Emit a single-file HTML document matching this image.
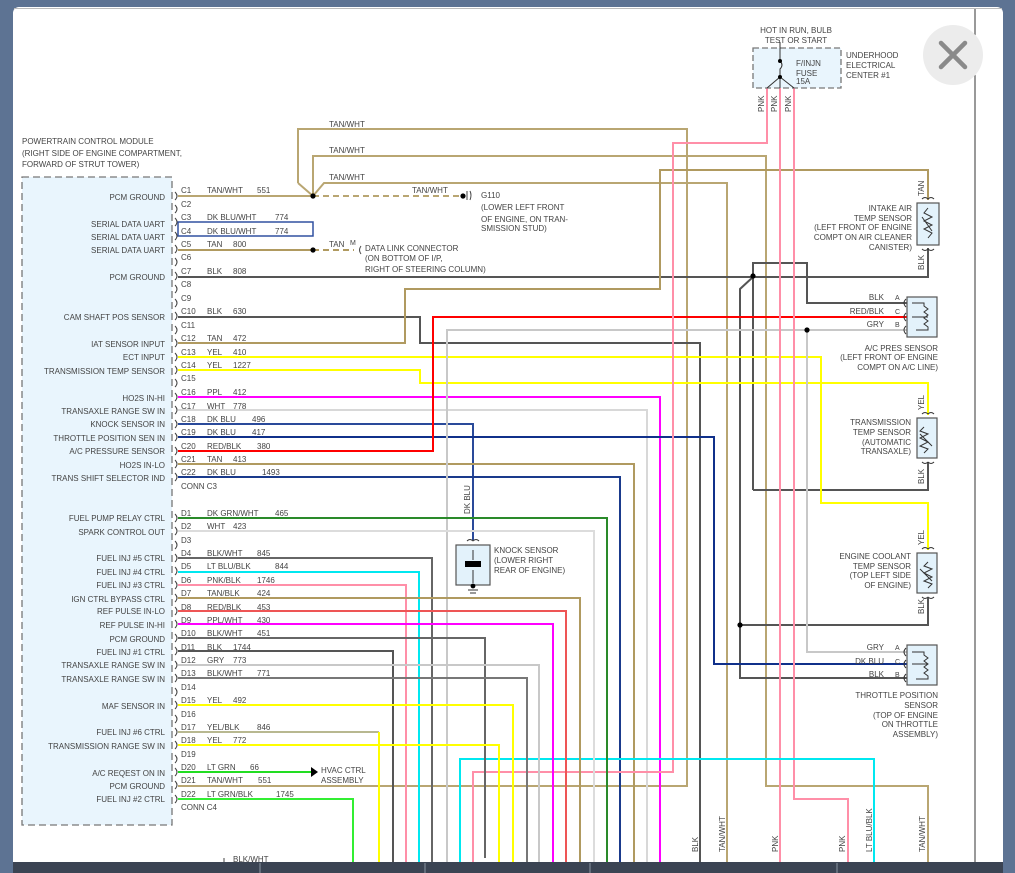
<!DOCTYPE html>
<html><head><meta charset="utf-8"><style>
html,body{margin:0;padding:0;background:#5d7393;}
svg{display:block}
text{font-family:"Liberation Sans",sans-serif;font-size:8px;fill:#444}
.r{text-anchor:end}
</style></head><body>
<svg width="1015" height="873" viewBox="0 0 1015 873" xmlns="http://www.w3.org/2000/svg">
<rect x="0" y="0" width="1015" height="873" fill="#5d7393"/>
<rect x="13" y="7" width="990" height="866" rx="6" fill="#fff"/>
<line x1="975" y1="8" x2="975" y2="862" stroke="#333" stroke-width="1"/>
<line x1="14" y1="8.5" x2="1002" y2="8.5" stroke="#bbb" stroke-width="1"/>

<!-- PCM box -->
<rect x="22" y="177" width="150" height="648" fill="#e9f5fd" stroke="#777" stroke-width="1.3" stroke-dasharray="7,4"/>
<text x="22" y="144">POWERTRAIN CONTROL MODULE</text>
<text x="22" y="156">(RIGHT SIDE OF ENGINE COMPARTMENT,</text>
<text x="22" y="167">FORWARD OF STRUT TOWER)</text>

<g fill="none" stroke-width="2">
<!-- TAN/WHT loops -->
<polyline points="298,183 298,129 687,129 687,786 178,786" stroke="#b9a672"/>
<polyline points="313,196 313,156 766,156 766,786 928,786 928,862" stroke="#b9a672"/>
<polyline points="313,196 324,183 727,183 727,862" stroke="#b9a672"/>
<line x1="298" y1="183" x2="313" y2="196" stroke="#b9a672"/>
<line x1="178" y1="196" x2="313" y2="196" stroke="#b9a672"/>
<line x1="313" y1="196" x2="463" y2="196" stroke="#b9a672" stroke-dasharray="6,4"/>
<!-- C3/C4 -->
<rect x="178" y="222" width="135" height="14" stroke="#3050a0" stroke-width="1.5"/>
<!-- C5 -->
<line x1="178" y1="250" x2="313" y2="250" stroke="#b09a60"/>
<line x1="313" y1="250" x2="354" y2="250" stroke="#b09a60" stroke-dasharray="6,4"/>
<!-- C7 BLK -->
<line x1="178" y1="277" x2="753" y2="277" stroke="#555"/>
<polyline points="753,277 928,277 928,248" stroke="#555"/>
<polyline points="753,490 753,263 807,263 807,303 908,303" stroke="#555"/>
<polyline points="753,277 740,289 740,678 908,678" stroke="#555"/>
<polyline points="753,490 928,490 928,462" stroke="#555"/>
<polyline points="740,625 928,625 928,598" stroke="#555"/>
<!-- C10 -->
<polyline points="178,317 420,317 420,343 700,343 700,862" stroke="#555"/>
<!-- C12 TAN -->
<polyline points="178,343 405,343 405,289 660,289 660,170 928,170 928,200" stroke="#b09a60"/>
<!-- C13 YEL -->
<polyline points="178,357 821,357 821,503 928,503 928,550" stroke="#ffff00"/>
<!-- C14 YEL -->
<polyline points="178,370 420,370 420,383 928,383 928,415" stroke="#ffff00"/>
<!-- C16 PPL -->
<polyline points="178,397 660,397 660,862" stroke="#ff00ff"/>
<!-- C17 WHT -->
<polyline points="178,410 647,410 647,862" stroke="#d8d8d8"/>
<!-- C18 -->
<polyline points="178,424 473,424 473,540" stroke="#2a4a9a"/>
<!-- C19 -->
<polyline points="178,437 714,437 714,664 908,664" stroke="#10308a"/>
<!-- C20 -->
<polyline points="178,451 433,451 433,317 908,317" stroke="#ff0000"/>
<!-- C21 -->
<polyline points="178,464 634,464 634,862" stroke="#b09a60"/>
<!-- C22 -->
<polyline points="178,477 620,477 620,862" stroke="#1a3a8c"/>
<!-- GRY -->
<polyline points="447,862 447,330 908,330" stroke="#c8c8c8"/>
<polyline points="807,330 807,652 908,652" stroke="#c8c8c8"/>
<!-- pinks -->
<polyline points="767,88 767,143 673,143 673,772 473,772 473,862" stroke="#ff8fa8"/>
<polyline points="780,88 780,862" stroke="#ff8fa8"/>
<polyline points="794,88 794,799 848,799 848,862" stroke="#ff8fa8"/>
<!-- cyan -->
<polyline points="460,862 460,759 874,759 874,862" stroke="#00e8f0"/>
<!-- D wires -->
<polyline points="178,518 607,518 607,862" stroke="#2a8a2a"/>
<polyline points="178,531 594,531 594,862" stroke="#dcdcdc"/>
<polyline points="178,558 432,558 432,862" stroke="#666"/>
<polyline points="178,572 419,572 419,862" stroke="#00e8f0"/>
<polyline points="178,585 406,585 406,862" stroke="#ff8fa8"/>
<polyline points="178,598 580,598 580,862" stroke="#b09a60"/>
<polyline points="178,611 566,611 566,862" stroke="#ee5555"/>
<polyline points="178,624 553,624 553,862" stroke="#ff00ff"/>
<polyline points="178,638 485,638 485,858" stroke="#666"/>
<polyline points="178,651 393,651 393,862" stroke="#555"/>
<polyline points="178,665 539,665 539,862" stroke="#c8c8c8"/>
<polyline points="178,678 527,678 527,862" stroke="#777"/>
<polyline points="178,705 513,705 513,862" stroke="#ffff00"/>
<polyline points="178,732 379,732" stroke="#b8b890"/>
<polyline points="379,732 379,862" stroke="#ffff00"/>
<polyline points="178,745 499,745 499,862" stroke="#ffff00"/>
<polyline points="178,772 311,772" stroke="#22dd22"/>
<polyline points="178,799 353,799 353,862" stroke="#33ee33"/>
</g>
<polygon points="311,767 318,772 311,777" fill="#000"/>
<text x="321" y="773">HVAC CTRL</text>
<text x="321" y="783">ASSEMBLY</text>

<!-- dots -->
<g fill="#000">
<circle cx="313" cy="196" r="2.6"/><circle cx="463" cy="196" r="2.6"/>
<circle cx="313" cy="250" r="2.6"/><circle cx="753" cy="276" r="2.6"/>
<circle cx="807" cy="330" r="2.6"/><circle cx="740" cy="625" r="2.6"/>
</g>
<path d="M467,191 v9 M470,191 q2,4 0,9" stroke="#444" fill="none" stroke-width="1"/>
<text x="481" y="198">G110</text>
<text x="481" y="210">(LOWER LEFT FRONT</text>
<text x="481" y="222">OF ENGINE, ON TRAN-</text>
<text x="481" y="231">SMISSION STUD)</text>
<text x="412" y="193">TAN/WHT</text>
<text x="329" y="127">TAN/WHT</text>
<text x="329" y="153">TAN/WHT</text>
<text x="329" y="180">TAN/WHT</text>
<text x="329" y="247">TAN</text>
<text x="350" y="245" style="font-size:7px">M</text>
<path d="M361,246 q-3,4 0,8" stroke="#444" fill="none"/>
<text x="365" y="251">DATA LINK CONNECTOR</text>
<text x="365" y="261">(ON BOTTOM OF I/P,</text>
<text x="365" y="272">RIGHT OF STEERING COLUMN)</text>

<!-- pin labels -->
<g>
<text x="181" y="193">C1</text><text x="207" y="193">TAN/WHT</text><text x="257" y="193">551</text>
<text x="181" y="207">C2</text>
<text x="181" y="220">C3</text><text x="207" y="220">DK BLU/WHT</text><text x="275" y="220">774</text>
<text x="181" y="234">C4</text><text x="207" y="234">DK BLU/WHT</text><text x="275" y="234">774</text>
<text x="181" y="247">C5</text><text x="207" y="247">TAN</text><text x="233" y="247">800</text>
<text x="181" y="260">C6</text>
<text x="181" y="274">C7</text><text x="207" y="274">BLK</text><text x="233" y="274">808</text>
<text x="181" y="287">C8</text>
<text x="181" y="301">C9</text>
<text x="181" y="314">C10</text><text x="207" y="314">BLK</text><text x="233" y="314">630</text>
<text x="181" y="328">C11</text>
<text x="181" y="341">C12</text><text x="207" y="341">TAN</text><text x="233" y="341">472</text>
<text x="181" y="355">C13</text><text x="207" y="355">YEL</text><text x="233" y="355">410</text>
<text x="181" y="368">C14</text><text x="207" y="368">YEL</text><text x="233" y="368">1227</text>
<text x="181" y="381">C15</text>
<text x="181" y="395">C16</text><text x="207" y="395">PPL</text><text x="233" y="395">412</text>
<text x="181" y="409">C17</text><text x="207" y="409">WHT</text><text x="233" y="409">778</text>
<text x="181" y="422">C18</text><text x="207" y="422">DK BLU</text><text x="252" y="422">496</text>
<text x="181" y="435">C19</text><text x="207" y="435">DK BLU</text><text x="252" y="435">417</text>
<text x="181" y="449">C20</text><text x="207" y="449">RED/BLK</text><text x="257" y="449">380</text>
<text x="181" y="462">C21</text><text x="207" y="462">TAN</text><text x="233" y="462">413</text>
<text x="181" y="475">C22</text><text x="207" y="475">DK BLU</text><text x="262" y="475">1493</text>
<text x="181" y="489">CONN C3</text>
<text x="181" y="516">D1</text><text x="207" y="516">DK GRN/WHT</text><text x="275" y="516">465</text>
<text x="181" y="529">D2</text><text x="207" y="529">WHT</text><text x="233" y="529">423</text>
<text x="181" y="543">D3</text>
<text x="181" y="556">D4</text><text x="207" y="556">BLK/WHT</text><text x="257" y="556">845</text>
<text x="181" y="569">D5</text><text x="207" y="569">LT BLU/BLK</text><text x="275" y="569">844</text>
<text x="181" y="583">D6</text><text x="207" y="583">PNK/BLK</text><text x="257" y="583">1746</text>
<text x="181" y="596">D7</text><text x="207" y="596">TAN/BLK</text><text x="257" y="596">424</text>
<text x="181" y="610">D8</text><text x="207" y="610">RED/BLK</text><text x="257" y="610">453</text>
<text x="181" y="623">D9</text><text x="207" y="623">PPL/WHT</text><text x="257" y="623">430</text>
<text x="181" y="636">D10</text><text x="207" y="636">BLK/WHT</text><text x="257" y="636">451</text>
<text x="181" y="650">D11</text><text x="207" y="650">BLK</text><text x="233" y="650">1744</text>
<text x="181" y="663">D12</text><text x="207" y="663">GRY</text><text x="233" y="663">773</text>
<text x="181" y="676">D13</text><text x="207" y="676">BLK/WHT</text><text x="257" y="676">771</text>
<text x="181" y="690">D14</text>
<text x="181" y="703">D15</text><text x="207" y="703">YEL</text><text x="233" y="703">492</text>
<text x="181" y="717">D16</text>
<text x="181" y="730">D17</text><text x="207" y="730">YEL/BLK</text><text x="257" y="730">846</text>
<text x="181" y="743">D18</text><text x="207" y="743">YEL</text><text x="233" y="743">772</text>
<text x="181" y="757">D19</text>
<text x="181" y="770">D20</text><text x="207" y="770">LT GRN</text><text x="250" y="770">66</text>
<text x="181" y="783">D21</text><text x="207" y="783">TAN/WHT</text><text x="258" y="783">551</text>
<text x="181" y="797">D22</text><text x="207" y="797">LT GRN/BLK</text><text x="276" y="797">1745</text>
<text x="181" y="810">CONN C4</text>
</g>
<!-- brackets -->
<g stroke="#444" fill="none" stroke-width="1">
<path d="M175,192 q4,4 0,8 M175,205 q4,4 0,8 M175,218 q4,4 0,8 M175,232 q4,4 0,8 M175,245 q4,4 0,8 M175,258 q4,4 0,8 M175,272 q4,4 0,8 M175,285 q4,4 0,8 M175,299 q4,4 0,8 M175,312 q4,4 0,8 M175,326 q4,4 0,8 M175,339 q4,4 0,8 M175,353 q4,4 0,8 M175,366 q4,4 0,8 M175,379 q4,4 0,8 M175,393 q4,4 0,8 M175,406 q4,4 0,8 M175,420 q4,4 0,8 M175,433 q4,4 0,8 M175,447 q4,4 0,8 M175,460 q4,4 0,8 M175,473 q4,4 0,8"/>
<path d="M175,514 q4,4 0,8 M175,527 q4,4 0,8 M175,541 q4,4 0,8 M175,554 q4,4 0,8 M175,567 q4,4 0,8 M175,581 q4,4 0,8 M175,594 q4,4 0,8 M175,607 q4,4 0,8 M175,620 q4,4 0,8 M175,634 q4,4 0,8 M175,647 q4,4 0,8 M175,661 q4,4 0,8 M175,674 q4,4 0,8 M175,688 q4,4 0,8 M175,701 q4,4 0,8 M175,715 q4,4 0,8 M175,728 q4,4 0,8 M175,741 q4,4 0,8 M175,755 q4,4 0,8 M175,768 q4,4 0,8 M175,781 q4,4 0,8 M175,795 q4,4 0,8"/>
</g>
<!-- left labels -->
<g class="r">
<text class="r" x="165" y="200">PCM GROUND</text>
<text class="r" x="165" y="227">SERIAL DATA UART</text>
<text class="r" x="165" y="240">SERIAL DATA UART</text>
<text class="r" x="165" y="253">SERIAL DATA UART</text>
<text class="r" x="165" y="280">PCM GROUND</text>
<text class="r" x="165" y="320">CAM SHAFT POS SENSOR</text>
<text class="r" x="165" y="347">IAT SENSOR INPUT</text>
<text class="r" x="165" y="360">ECT INPUT</text>
<text class="r" x="165" y="374">TRANSMISSION TEMP SENSOR</text>
<text class="r" x="165" y="401">HO2S IN-HI</text>
<text class="r" x="165" y="414">TRANSAXLE RANGE SW IN</text>
<text class="r" x="165" y="427">KNOCK SENSOR IN</text>
<text class="r" x="165" y="441">THROTTLE POSITION SEN IN</text>
<text class="r" x="165" y="454">A/C PRESSURE SENSOR</text>
<text class="r" x="165" y="468">HO2S IN-LO</text>
<text class="r" x="165" y="481">TRANS SHIFT SELECTOR IND</text>
<text class="r" x="165" y="521">FUEL PUMP RELAY CTRL</text>
<text class="r" x="165" y="535">SPARK CONTROL OUT</text>
<text class="r" x="165" y="561">FUEL INJ #5 CTRL</text>
<text class="r" x="165" y="575">FUEL INJ #4 CTRL</text>
<text class="r" x="165" y="588">FUEL INJ #3 CTRL</text>
<text class="r" x="165" y="602">IGN CTRL BYPASS CTRL</text>
<text class="r" x="165" y="614">REF PULSE IN-LO</text>
<text class="r" x="165" y="628">REF PULSE IN-HI</text>
<text class="r" x="165" y="642">PCM GROUND</text>
<text class="r" x="165" y="655">FUEL INJ #1 CTRL</text>
<text class="r" x="165" y="668">TRANSAXLE RANGE SW IN</text>
<text class="r" x="165" y="682">TRANSAXLE RANGE SW IN</text>
<text class="r" x="165" y="709">MAF SENSOR IN</text>
<text class="r" x="165" y="735">FUEL INJ #6 CTRL</text>
<text class="r" x="165" y="749">TRANSMISSION RANGE SW IN</text>
<text class="r" x="165" y="776">A/C REQEST ON IN</text>
<text class="r" x="165" y="789">PCM GROUND</text>
<text class="r" x="165" y="802">FUEL INJ #2 CTRL</text>
</g>

<!-- fuse box -->
<rect x="753" y="48" width="88" height="40" fill="#e9f5fd" stroke="#777" stroke-width="1.3" stroke-dasharray="6,3"/>
<path d="M780,42 V61 q4,4 0,8 V77 L767,88 M780,77 V88 M780,77 L794,88" stroke="#333" fill="none" stroke-width="1"/>
<circle cx="780" cy="61" r="2" fill="#000"/><circle cx="780" cy="77" r="2" fill="#000"/>
<text x="796" y="33" text-anchor="middle">HOT IN RUN, BULB</text>
<text x="796" y="43" text-anchor="middle">TEST OR START</text>
<text x="796" y="66">F/INJN</text>
<text x="796" y="76">FUSE</text>
<text x="796" y="84">15A</text>
<text x="846" y="58">UNDERHOOD</text>
<text x="846" y="68">ELECTRICAL</text>
<text x="846" y="78">CENTER #1</text>
<text transform="translate(764,112) rotate(-90)">PNK</text>
<text transform="translate(777,112) rotate(-90)">PNK</text>
<text transform="translate(791,112) rotate(-90)">PNK</text>

<!-- close -->
<circle cx="953" cy="55" r="30" fill="#ececec"/>
<path d="M941,43 L965,67 M965,43 L941,67" stroke="#8a8a8a" stroke-width="4.5" stroke-linecap="round"/>

<!-- sensors -->
<g stroke="#555" fill="#e3f2fb" stroke-width="1.2">
<rect x="917" y="203" width="22" height="42"/>
<rect x="907" y="297" width="30" height="40"/>
<rect x="917" y="418" width="20" height="40"/>
<rect x="917" y="553" width="20" height="40"/>
<rect x="907" y="645" width="30" height="40"/>
<rect x="456" y="545" width="34" height="40"/>
</g>
<g stroke="#333" fill="none" stroke-width="1">
<path d="M928,208 l-4,5 8,4 -8,4 8,4 -8,4 8,4 -4,5 M922,217 l10,14"/>
<path d="M924,427 l-4,4 8,3 -8,4 8,4 -8,4 8,3 -4,4 M920,434 l12,12"/>
<path d="M928,562 l-4,4 8,3 -8,4 8,4 -8,4 8,3 -4,4 M920,569 l12,12"/>
<path d="M912,303 h12 v3 l4,3 -4,3 4,3 -4,3 4,3 -4,3 4,3 v3 h-12 M912,317 h16"/>
<path d="M912,652 h12 v3 l4,3 -4,3 4,3 -4,3 4,3 -4,3 4,3 v3 h-12 M912,664 h16"/>
<path d="M473,550 v10 M473,570 v13"/>
<path d="M928,199 q-3,-3 -6,0 M928,199 q3,-3 6,0 M928,249 q-3,3 -6,0 M928,249 q3,3 6,0 M928,414 q-3,-3 -6,0 M928,414 q3,-3 6,0 M928,462 q-3,3 -6,0 M928,462 q3,3 6,0 M928,549 q-3,-3 -6,0 M928,549 q3,-3 6,0 M928,597 q-3,3 -6,0 M928,597 q3,3 6,0 M473,541 q-3,-3 -6,0 M473,541 q3,-3 6,0"/>
<path d="M906,299 q-4,4 0,8 M906,313 q-4,4 0,8 M906,326 q-4,4 0,8 M906,648 q-4,4 0,8 M906,660 q-4,4 0,8 M906,674 q-4,4 0,8"/>
<path d="M468,590 h10 M470,593 h6"/>
</g>
<rect x="465" y="561" width="16" height="6" fill="#000"/>
<circle cx="473" cy="586" r="2.4" fill="#000"/>
<text x="494" y="553">KNOCK SENSOR</text>
<text x="494" y="563">(LOWER RIGHT</text>
<text x="494" y="573">REAR OF ENGINE)</text>
<text transform="translate(470,514) rotate(-90)">DK BLU</text>

<text class="r" x="912" y="211">INTAKE AIR</text>
<text class="r" x="912" y="221">TEMP SENSOR</text>
<text class="r" x="912" y="230">(LEFT FRONT OF ENGINE</text>
<text class="r" x="912" y="240">COMPT ON AIR CLEANER</text>
<text class="r" x="912" y="250">CANISTER)</text>
<text transform="translate(924,196) rotate(-90)">TAN</text>
<text transform="translate(924,270) rotate(-90)">BLK</text>

<text class="r" x="884" y="300">BLK</text><text x="895" y="300" style="font-size:7px">A</text>
<text class="r" x="884" y="314">RED/BLK</text><text x="895" y="314" style="font-size:7px">C</text>
<text class="r" x="884" y="327">GRY</text><text x="895" y="327" style="font-size:7px">B</text>
<text class="r" x="938" y="351">A/C PRES SENSOR</text>
<text class="r" x="938" y="360">(LEFT FRONT OF ENGINE</text>
<text class="r" x="938" y="370">COMPT ON A/C LINE)</text>

<text class="r" x="911" y="425">TRANSMISSION</text>
<text class="r" x="911" y="435">TEMP SENSOR</text>
<text class="r" x="911" y="445">(AUTOMATIC</text>
<text class="r" x="911" y="454">TRANSAXLE)</text>
<text transform="translate(924,410) rotate(-90)">YEL</text>
<text transform="translate(924,484) rotate(-90)">BLK</text>

<text class="r" x="911" y="559">ENGINE COOLANT</text>
<text class="r" x="911" y="569">TEMP SENSOR</text>
<text class="r" x="911" y="578">(TOP LEFT SIDE</text>
<text class="r" x="911" y="588">OF ENGINE)</text>
<text transform="translate(924,545) rotate(-90)">YEL</text>
<text transform="translate(924,614) rotate(-90)">BLK</text>

<text class="r" x="884" y="650">GRY</text><text x="895" y="650" style="font-size:7px">A</text>
<text class="r" x="884" y="664">DK BLU</text><text x="895" y="664" style="font-size:7px">C</text>
<text class="r" x="884" y="677">BLK</text><text x="895" y="677" style="font-size:7px">B</text>
<text class="r" x="938" y="698">THROTTLE POSITION</text>
<text class="r" x="938" y="708">SENSOR</text>
<text class="r" x="938" y="718">(TOP OF ENGINE</text>
<text class="r" x="938" y="727">ON THROTTLE</text>
<text class="r" x="938" y="737">ASSEMBLY)</text>

<!-- bottom labels -->
<text transform="translate(698,852) rotate(-90)">BLK</text>
<text transform="translate(725,852) rotate(-90)">TAN/WHT</text>
<text transform="translate(778,852) rotate(-90)">PNK</text>
<text transform="translate(845,852) rotate(-90)">PNK</text>
<text transform="translate(872,852) rotate(-90)">LT BLU/BLK</text>
<text transform="translate(925,852) rotate(-90)">TAN/WHT</text>
<text x="233" y="862">BLK/WHT</text>
<line x1="224" y1="858" x2="224" y2="863" stroke="#444"/>

<!-- bottom bar -->
<rect x="13" y="862" width="990" height="11" fill="#3b4453"/>
<g stroke="#8a93a0" stroke-width="1">
<line x1="260" y1="863" x2="260" y2="873"/><line x1="425" y1="863" x2="425" y2="873"/>
<line x1="590" y1="863" x2="590" y2="873"/><line x1="837" y1="863" x2="837" y2="873"/>
</g>
</svg>
</body></html>
